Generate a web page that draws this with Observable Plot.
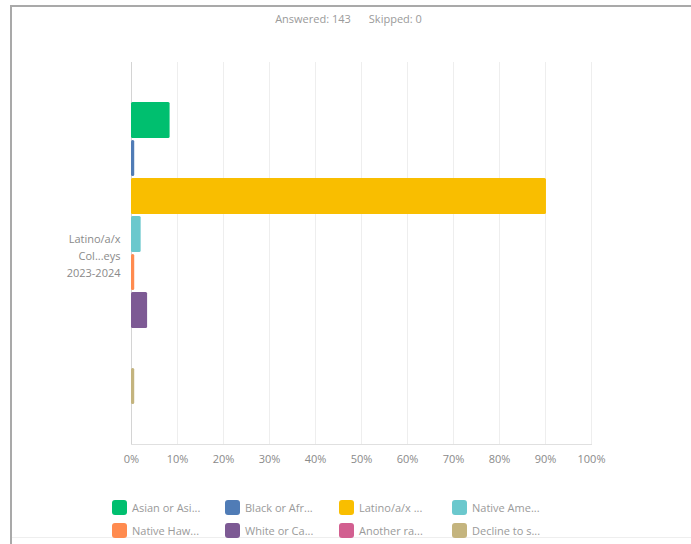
<!DOCTYPE html>
<html>
<head>
<meta charset="utf-8">
<script src="https://cdn.jsdelivr.net/npm/d3@7"></script>
<script src="https://cdn.jsdelivr.net/npm/@observablehq/plot@0.6"></script>
<style>
  html, body { margin: 0; padding: 0; background: #fff; }
  #page { position: relative; width: 691px; height: 544px; overflow: hidden; font-family: "Open Sans", sans-serif; }
  .border-top { position: absolute; left: 10px; top: 5px; width: 681px; height: 2px; background: #a9a9a9; }
  .border-left { position: absolute; left: 10px; top: 5px; width: 2px; height: 539px; background: #a9a9a9; }
  .border-bottom { position: absolute; left: 12px; top: 537px; width: 679px; height: 1px; background: #eeeeee; }
  #header { position: absolute; left: 0; top: 11px; width: 691px; text-align: center; font-size: 11px; color: #9a9a9a; line-height: 16px; padding-left: 6px; box-sizing: border-box; }
  #header span { margin: 0 9px; }
  #chart { position: absolute; left: 0; top: 40px; }
  #legend { position: absolute; left: 0; top: 0; width: 691px; height: 544px; pointer-events: none; }
  .leg { position: absolute; display: flex; align-items: center; font-size: 11px; color: #9a9a9a; height: 16px; white-space: nowrap; }
  .sw { width: 15px; height: 15px; border-radius: 3px; margin-right: 5px; }
</style>
</head>
<body>
<div id="page">
  <div class="border-top"></div>
  <div class="border-left"></div>
  <div class="border-bottom"></div>
  <div id="header"><span>Answered: 143</span><span>Skipped: 0</span></div>
  <div id="chart"></div>
  <div id="legend"></div>
</div>
<script>
const categories = [
  "Asian or Asian American",
  "Black or African American",
  "Latino/a/x or Hispanic",
  "Native American or Alaska Native",
  "Native Hawaiian or Pacific Islander",
  "White or Caucasian",
  "Another race",
  "Decline to state"
];
const legendLabels = [
  "Asian or Asi...", "Black or Afr...", "Latino/a/x ...", "Native Ame...",
  "Native Haw...", "White or Ca...", "Another ra...", "Decline to s..."
];
const values = [8.39, 0.70, 90.21, 2.10, 0.70, 3.50, 0, 0.70];
const colors = ["#00bf6f", "#507cb6", "#f9be00", "#6bc8cd", "#ff8b4f", "#7d5a94", "#d25f90", "#c4b47e"];
const questionLabel = "Latino/a/x\nCol...eys\n2023-2024";
const xTicks = [0, 10, 20, 30, 40, 50, 60, 70, 80, 90, 100];

const data = categories.map((c, i) => ({category: c, value: values[i]}));

const chart = Plot.plot({
  width: 691,
  height: 440,
  marginLeft: 131,
  marginRight: 100,
  marginTop: 22,
  marginBottom: 36,
  style: {fontFamily: "Open Sans, sans-serif", fontSize: "11px", color: "#8a8a8a", background: "transparent"},
  x: {domain: [0, 100], ticks: xTicks, tickFormat: d => d + "%", label: null},
  y: {domain: categories, paddingInner: 0.06, paddingOuter: 1.0, axis: null},
  color: {domain: categories, range: colors},
  marks: [
    Plot.gridX(xTicks, {stroke: "#eeeeee", strokeOpacity: 1}),
    Plot.frame({anchor: "bottom", stroke: "#e0e0e0"}),
    Plot.ruleX([0], {stroke: "#d4d4d4"}),
    Plot.axisX({ticks: xTicks, tickFormat: d => d + "%", tickSize: 0, tickPadding: 11, label: null, fill: "#8a8a8a", fontSize: 11}),
    Plot.barX(data, {x: "value", y: "category", fill: "category", rx: 1.5}),
    Plot.text([questionLabel], {frameAnchor: "left", dx: -11, textAnchor: "end", lineHeight: 1.55, fill: "#8a8a8a", fontSize: 11, dy: 1})
  ]
});
document.getElementById("chart").appendChild(chart);

const legend = document.getElementById("legend");
const colLeft = [112, 225, 339, 452];
const rowTop = [499, 522];
legendLabels.forEach((lab, i) => {
  const el = document.createElement("div");
  el.className = "leg";
  el.style.left = colLeft[i % 4] + "px";
  el.style.top = rowTop[Math.floor(i / 4)] + "px";
  el.innerHTML = `<div class="sw" style="background:${colors[i]}"></div><span>${lab}</span>`;
  legend.appendChild(el);
});
</script>
</body>
</html>
